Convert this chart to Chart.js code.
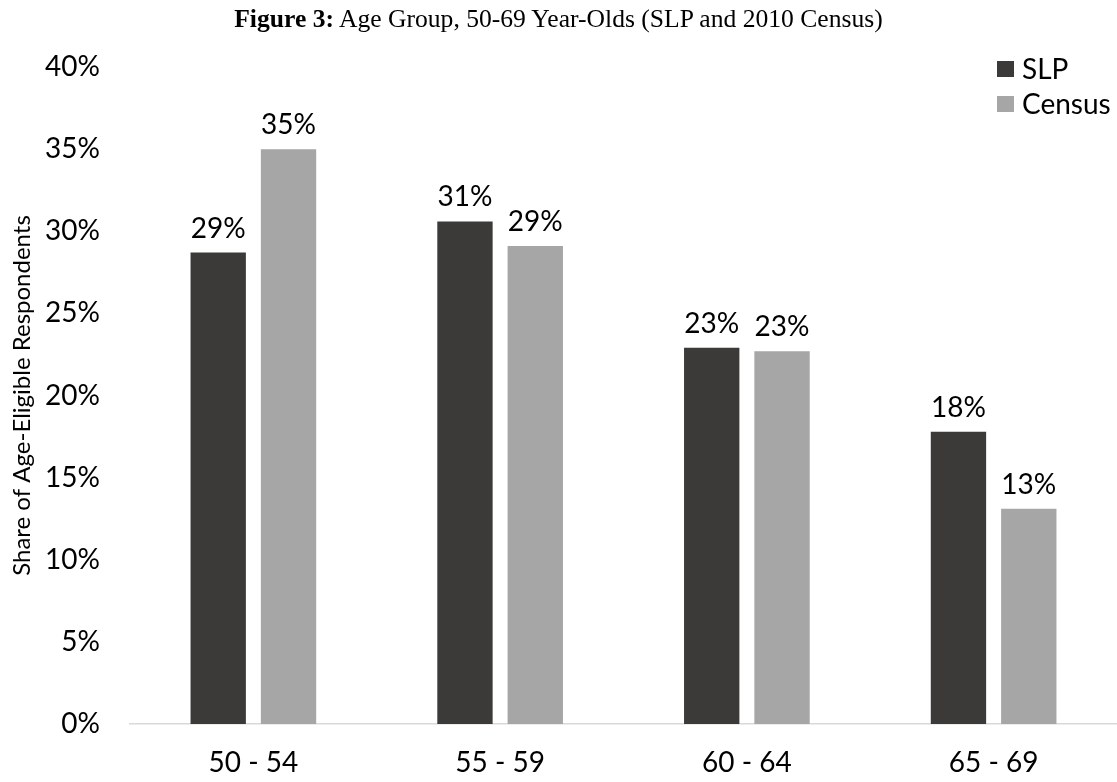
<!DOCTYPE html>
<html>
<head>
<meta charset="utf-8">
<script src="https://cdn.jsdelivr.net/npm/chart.js@4/dist/chart.umd.min.js"></script>
<style>
  html, body { margin: 0; padding: 0; background: #fff; }
  #wrap { position: relative; width: 1117px; height: 782px; }
  #title { position: absolute; left: 0; top: 4px; width: 1117px; text-align: center;
           font-family: "Liberation Serif", "Times New Roman", serif; font-size: 25.6px; color: #000; z-index: 2; }
  #chart { position: absolute; left: 0; top: 0; }
</style>
</head>
<body>
<div id="wrap">
  <div id="title"><b>Figure 3:</b> Age Group, 50-69 Year-Olds (SLP and 2010 Census)</div>
  <canvas id="chart" width="1117" height="782"></canvas>
</div>
<script>
const categories = ["50 - 54", "55 - 59", "60 - 64", "65 - 69"];
const slpValues = [28.7, 30.6, 22.9, 17.8];
const censusValues = [35.0, 29.1, 22.7, 13.1];
const seriesNames = ["SLP", "Census"];
const yTicks = [0, 5, 10, 15, 20, 25, 30, 35, 40];
const yTitle = "Share of Age-Eligible Respondents";

const FONT = "Lato, 'Open Sans', sans-serif";

const barLabels = {
  id: 'barLabels',
  afterDatasetsDraw(chart) {
    const ctx = chart.ctx;
    ctx.save();
    ctx.font = "28px " + FONT;
    ctx.fillStyle = "#000";
    ctx.textAlign = "center";
    ctx.textBaseline = "alphabetic";
    chart.data.datasets.forEach((ds, i) => {
      chart.getDatasetMeta(i).data.forEach((bar, j) => {
        ctx.fillText(Math.round(ds.data[j]) + "%", bar.x, bar.y - 15);
      });
    });
    ctx.restore();
  }
};

const cornerLegend = {
  id: 'cornerLegend',
  afterDraw(chart) {
    const ctx = chart.ctx;
    ctx.save();
    ctx.font = "28px " + FONT;
    ctx.textBaseline = "middle";
    ctx.textAlign = "left";
    chart.data.datasets.forEach((ds, i) => {
      const y = 61 + i * 35;
      ctx.fillStyle = ds.backgroundColor;
      ctx.fillRect(997, y, 17, 16);
      ctx.fillStyle = "#000";
      ctx.fillText(ds.label, 1022, y + 9);
    });
    ctx.restore();
  }
};

new Chart(document.getElementById('chart'), {
  type: 'bar',
  data: {
    labels: categories,
    datasets: [
      { label: seriesNames[0], data: slpValues, backgroundColor: '#3b3a38',
        categoryPercentage: 0.57, barPercentage: 0.787 },
      { label: seriesNames[1], data: censusValues, backgroundColor: '#a6a6a6',
        categoryPercentage: 0.57, barPercentage: 0.787 }
    ]
  },
  options: {
    responsive: false,
    animation: false,
    layout: { padding: { top: 67, right: 0, bottom: 0, left: 0 } },
    plugins: {
      legend: { display: false },
      title: { display: false },
      tooltip: { enabled: false }
    },
    scales: {
      x: {
        grid: { display: false, drawTicks: false },
        border: { display: true, color: '#d9d9d9', width: 1.5 },
        ticks: { font: { family: FONT, size: 28 }, color: '#000', padding: 22 },
        afterFit(scale) { scale.height = 58; }
      },
      y: {
        min: 0, max: 40,
        afterBuildTicks(scale) { scale.ticks = yTicks.map(v => ({ value: v })); },
        grid: { display: false, drawTicks: false },
        border: { display: false },
        ticks: { font: { family: FONT, size: 28 }, color: '#000', padding: 30,
                 callback: v => v + '%' },
        title: { display: true, text: yTitle, font: { family: FONT, size: 24 }, color: '#000',
                 padding: { top: 8, bottom: 0 } },
        afterFit(scale) { scale.width = 130; }
      }
    }
  },
  plugins: [barLabels, cornerLegend]
});
</script>
</body>
</html>
